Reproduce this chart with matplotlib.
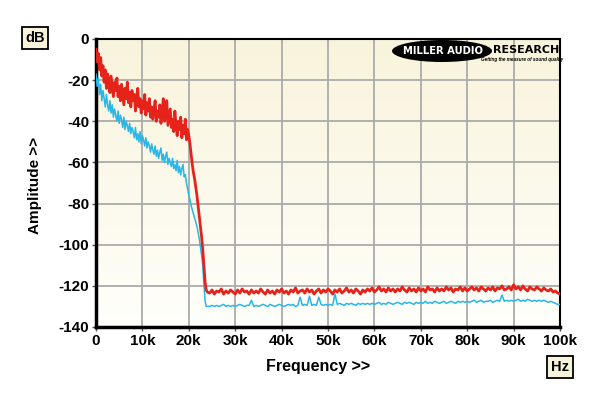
import matplotlib

matplotlib.use("Agg")
import matplotlib.pyplot as plt
import numpy as np
from matplotlib.patches import Ellipse

plt.rcParams["font.family"] = ["Liberation Sans", "DejaVu Sans"]
plt.rcParams["axes.unicode_minus"] = False

# ─────────────────────────────────────────────────────────────
# 데이터 (그림에서 읽은 값, dB)
# ─────────────────────────────────────────────────────────────
# 0 ~ 24 kHz : 0.25 kHz 간격, 24.5 ~ 100 kHz : 0.5 kHz 간격
freq_khz = np.concatenate([np.arange(0, 24.01, 0.25), np.arange(24.5, 100.01, 0.5)])

red_slope = [
    -5, -11, -7, -15, -9, -18, -13, -21, -15, -24, -17, -20, -26, -18, -23, -28,
    -21, -25, -19, -28, -23, -30, -22, -27, -32, -24, -29, -21, -31, -26, -33, -25,
    -30, -27, -35, -28, -24, -33, -29, -36, -30, -34, -27, -37, -31, -35, -29, -38,
    -33, -39, -34, -30, -40, -35, -38, -32, -41, -36, -29, -40, -37, -30, -42, -38,
    -34, -43, -39, -45, -35, -42, -47, -40, -44, -38, -48, -42, -46, -39, -49, -44,
    -47, -51, -56, -61, -65, -68, -72, -76, -81, -86, -91, -96, -102, -110, -118, -122,
    -123,
]
red_floor = [
    -123.5, -122.0, -124.0, -122.5, -123.0, -121.5, -124.0, -122.5, -123.5, -122.0,
    -123.0, -124.0, -122.0, -123.5, -121.5, -123.0, -122.5, -124.0, -122.0, -123.5,
    -122.5, -123.5, -121.5, -123.0, -124.0, -122.0, -123.5, -122.5, -124.0, -122.0,
    -123.0, -121.5, -123.5, -122.5, -124.0, -122.0, -123.0, -121.0, -123.5, -122.5,
    -122.0, -123.5, -121.5, -123.0, -122.0, -124.0, -122.5, -121.5, -123.5, -122.0,
    -123.0, -121.5, -122.5, -124.0, -122.0, -123.0, -121.5, -123.5, -122.5, -121.0,
    -123.0, -122.0, -123.5, -121.5, -122.5, -124.0, -122.0, -123.0, -121.5, -122.5,
    -121.0, -123.0, -122.0, -120.5, -122.5, -121.5, -123.0, -121.0, -122.5, -121.5,
    -123.0, -121.5, -122.5, -120.5, -122.0, -123.0, -121.0, -122.5, -121.5, -123.0,
    -121.0, -122.5, -121.5, -123.0, -120.5, -122.0, -121.5, -123.0, -121.0, -122.5,
    -121.5, -122.5, -120.5, -122.0, -121.0, -123.0, -121.5, -122.0, -120.5, -122.5,
    -121.0, -122.5, -121.5, -120.5, -122.0, -121.0, -122.5, -120.5, -121.5, -122.5,
    -121.0, -122.0, -120.5, -122.5, -121.0, -121.5, -120.0, -122.0, -121.5, -120.5,
    -122.0, -119.5, -121.5, -120.5, -122.0, -120.0, -121.5, -122.5, -120.5, -121.5,
    -122.0, -120.5, -121.5, -122.5, -121.0, -122.0, -122.5, -121.5, -123.0, -122.5,
    -123.5, -124.0,
]

cyan_slope = [
    -17, -23, -19, -27, -22, -30, -25, -29, -33, -27, -32, -35, -30, -36, -32, -38,
    -34, -37, -40, -35, -41, -37, -39, -43, -38, -44, -40, -42, -45, -41, -46, -43,
    -45, -48, -43, -49, -46, -50, -45, -51, -47, -49, -52, -48, -53, -50, -52, -55,
    -51, -54, -56, -52, -57, -54, -58, -55, -53, -59, -56, -60, -57, -55, -61, -58,
    -60, -62, -58, -63, -61, -64, -59, -65, -62, -66, -63, -61, -67, -66, -70, -73,
    -76, -78, -81, -83, -85, -87, -89, -91, -94, -97, -101, -105, -110, -119, -127, -130,
    -130,
]
cyan_floor = [
    -130.0, -129.5, -130.0, -129.5, -130.0, -129.5, -129.0, -130.0, -129.5, -130.0,
    -129.5, -130.0, -129.5, -129.0, -129.5, -130.0, -129.5, -129.5, -127.0, -130.0,
    -129.5, -130.0, -129.5, -129.0, -129.5, -130.0, -129.0, -129.5, -130.0, -129.5,
    -129.0, -129.5, -130.0, -129.5, -129.0, -129.5, -129.0, -130.0, -129.5, -125.5,
    -129.5, -129.0, -129.5, -125.0, -129.5, -129.0, -129.5, -125.5, -129.0, -129.5,
    -129.0, -129.5, -129.0, -129.5, -124.0, -129.0, -128.5, -129.0, -129.5, -128.5,
    -129.0, -128.5, -129.0, -129.5, -128.5, -129.0, -128.5, -129.0, -128.5, -129.0,
    -128.5, -129.0, -128.5, -128.0, -129.0, -128.5, -129.0, -128.0, -128.5, -129.0,
    -128.5, -128.0, -128.5, -129.0, -128.0, -128.5, -128.0, -128.5, -129.0, -128.0,
    -128.5, -128.0, -128.5, -127.5, -128.5, -128.0, -128.5, -127.5, -128.0, -128.5,
    -128.0, -127.5, -128.5, -128.0, -127.5, -128.0, -128.5, -127.5, -128.0, -127.5,
    -128.0, -127.5, -128.0, -127.5, -127.0, -128.0, -127.5, -127.0, -128.0, -127.5,
    -127.5, -127.0, -128.0, -127.5, -127.0, -127.5, -124.5, -127.5, -127.0, -127.5,
    -127.0, -127.5, -127.0, -126.5, -127.5, -127.0, -127.5, -126.5, -127.0, -127.5,
    -127.0, -127.5, -127.0, -127.5, -127.0, -127.5, -128.0, -127.5, -128.0, -128.5,
    -129.0, -129.0,
]

red_db = np.array(red_slope + red_floor)
cyan_db = np.array(cyan_slope + cyan_floor)

x_ticks = [0, 10, 20, 30, 40, 50, 60, 70, 80, 90, 100]
x_labels = ["0", "10k", "20k", "30k", "40k", "50k", "60k", "70k", "80k", "90k", "100k"]
y_ticks = [0, -20, -40, -60, -80, -100, -120, -140]

# ─────────────────────────────────────────────────────────────
# 그림
# ─────────────────────────────────────────────────────────────
fig = plt.figure(figsize=(6.0, 3.96), dpi=100)
ax = fig.add_axes((96 / 600, 1 - 327 / 396, 464 / 600, 288 / 396))

# 배경 그라데이션 (위: 크림색 -> 아래: 흰색)
top = np.array([0.975, 0.955, 0.86])
bot = np.array([1.0, 1.0, 0.985])
t = np.linspace(0, 1, 256)[:, None]
grad = (top * (1 - t) + bot * t)[:, None, :]
ax.imshow(grad, extent=(0, 100, -140, 0), aspect="auto", zorder=0, origin="upper")

ax.set_xlim(0, 100)
ax.set_ylim(-140, 0)
ax.set_xticks(x_ticks)
ax.set_xticklabels(x_labels)
ax.set_yticks(y_ticks)
ax.grid(True, color="#ababab", lw=1.3, zorder=1)
ax.set_axisbelow(True)

ax.plot(freq_khz, cyan_db, color="#29b6e8", lw=1.1, zorder=3)
ax.plot(freq_khz, red_db, color="#e5231b", lw=2.0, zorder=4)

for side in ("left", "bottom"):
    ax.spines[side].set_linewidth(2.5)
for side in ("top", "right"):
    ax.spines[side].set_linewidth(1.5)

ax.tick_params(axis="both", direction="out", length=3, width=1, color="#555555",
               labelsize=11, pad=2)
for lbl in ax.get_xticklabels() + ax.get_yticklabels():
    lbl.set_fontweight("bold")

fig.text(35 / 600, 1 - 185 / 396, "Amplitude >>", rotation=90, ha="center",
         va="center", fontsize=11, fontweight="bold")
fig.text(318 / 600, 1 - 366 / 396, "Frequency >>", ha="center", va="center",
         fontsize=11.5, fontweight="bold")

box = dict(boxstyle="square,pad=0.25", fc="#f8f4dc", ec="black", lw=1.3)
fig.text(35 / 600, 1 - 38 / 396, "dB", ha="center", va="center", fontsize=10.5,
         fontweight="bold", bbox=box)
fig.text(560 / 600, 1 - 367 / 396, "Hz", ha="center", va="center", fontsize=10.5,
         fontweight="bold", bbox=box)

# 로고
ell = Ellipse((442 / 600, 1 - 51 / 396), 100 / 600, 22 / 396,
              transform=fig.transFigure, fc="black", ec="none", zorder=5)
fig.add_artist(ell)
fig.text(443 / 600, 1 - 51 / 396, "MILLER AUDIO", ha="center", va="center",
         fontsize=7.2, fontweight="heavy", family="DejaVu Sans", color="white",
         zorder=6)
fig.text(493 / 600, 1 - 50 / 396, "RESEARCH", ha="left", va="center",
         fontsize=8.0, fontweight="heavy", family="DejaVu Sans", color="black",
         zorder=6)
fig.text(522 / 600, 1 - 59.5 / 396, "Getting the measure of sound quality",
         ha="center", va="center", fontsize=3.3, fontweight="bold",
         fontstyle="italic", color="black", zorder=6)

fig.savefig("out.png", dpi=100)
